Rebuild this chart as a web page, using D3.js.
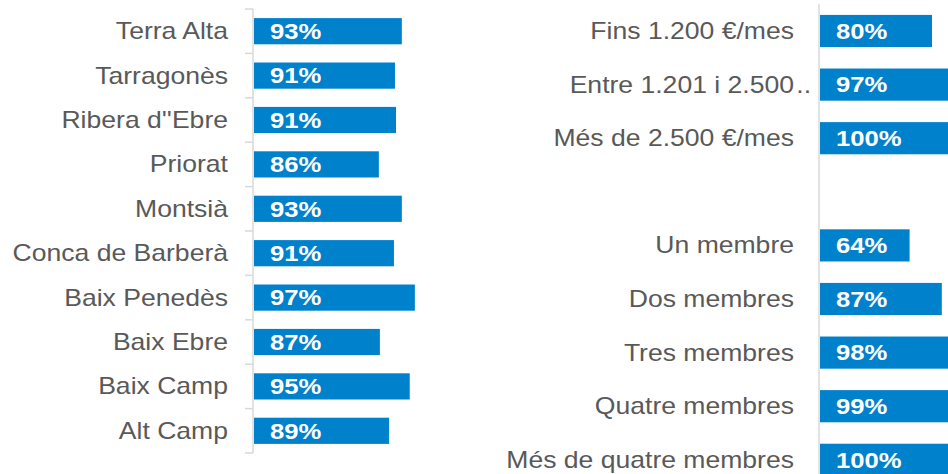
<!DOCTYPE html>
<html>
<head>
<meta charset="utf-8">
<script src="https://cdn.jsdelivr.net/npm/d3@7"></script>
<style>
  body { margin: 0; background: #fff; }
  text { font-family: "Liberation Sans", Arial, sans-serif; }
</style>
</head>
<body>
<div id="chart"></div>
<script>
// comarques (left panel), top to bottom
var comarques = ["Terra Alta", "Tarragonès", "Ribera d''Ebre", "Priorat", "Montsià",
                 "Conca de Barberà", "Baix Penedès", "Baix Ebre", "Baix Camp", "Alt Camp"]
var comarquesVal = [93.1, 91.1, 91.4, 86.4, 93.1, 90.8, 96.9, 86.7, 95.4, 89.4]

// ingressos + membres (right panel), "" is the empty row between the groups
var grups = ["Fins 1.200 €/mes", "Entre 1.201 i 2.500..", "Més de 2.500 €/mes", "",
             "Un membre", "Dos membres", "Tres membres", "Quatre membres", "Més de quatre membres"]
var grupsVal = [80, 97, 100, null, 64, 87, 98, 99, 100]

var width = 948, height = 474
var blue = "#0081cc", grey = "#595959", axisGrey = "#d9d9d9"
var fontSize = 23, valSize = 22.5, stretch = 1.155

var svg = d3.select("#chart")
  .append("svg")
    .attr("width", width)
    .attr("height", height)

// draw one panel: y band scale, x scale, axis position
function panel(cats, vals, y, x, axisX, boundaryTicks) {
  var g = svg.append("g")

  // axis line
  g.append("line")
    .attr("x1", axisX).attr("x2", axisX)
    .attr("y1", y.range()[0]).attr("y2", y.range()[1])
    .attr("stroke", axisGrey).attr("stroke-width", 1.5)

  // tick marks between categories
  if (boundaryTicks) {
    g.selectAll(".tk")
      .data(d3.range(cats.length + 1))
      .enter().append("line")
        .attr("x1", axisX - 8).attr("x2", axisX)
        .attr("y1", function(i) { return y.range()[0] + i * y.step() })
        .attr("y2", function(i) { return y.range()[0] + i * y.step() })
        .attr("stroke", axisGrey).attr("stroke-width", 1.5)
  }

  // category labels
  g.selectAll(".lbl")
    .data(cats)
    .enter().append("g")
      .attr("transform", function(d) { return "translate(" + (axisX - 25) + "," + (y(d) + y.bandwidth() / 2) + ") scale(" + stretch + ",1)" })
    .each(function(d) {
      var trunc = /\.\.$/.test(d)
      d3.select(this).append("text")
        .attr("text-anchor", "end")
        .attr("dy", "0.35em")
        .style("font-size", fontSize + "px")
        .style("fill", grey)
        .text(trunc ? d.slice(0, -2) : d)
      if (trunc) {
        d3.select(this).append("text")
          .attr("x", 2)
          .attr("dy", "0.35em")
          .style("font-size", fontSize + "px")
          .style("fill", grey)
          .text("..")
      }
    })

  var rows = cats.map(function(c, i) { return {cat: c, val: vals[i]} })
    .filter(function(d) { return d.val != null })

  // bars
  g.selectAll(".bar")
    .data(rows)
    .enter().append("rect")
      .attr("x", x.range()[0])
      .attr("y", function(d) { return y(d.cat) })
      .attr("width", function(d) { return x(d.val) - x.range()[0] })
      .attr("height", y.bandwidth())
      .attr("fill", blue)

  // value labels inside the bars
  g.selectAll(".val")
    .data(rows)
    .enter().append("g")
      .attr("transform", function(d) { return "translate(" + (x.range()[0] + 16) + "," + (y(d.cat) + y.bandwidth() / 2) + ") scale(1.14,1)" })
    .append("text")
      .attr("dy", "0.35em")
      .style("font-size", valSize + "px")
      .style("font-weight", "bold")
      .style("fill", "#fff")
      .text(function(d) { return Math.round(d.val) + "%" })
}

// left panel
var yL = d3.scaleBand()
  .domain(comarques)
  .range([9, 453])
  .paddingInner(0.41)
  .paddingOuter(0.205)
var xL = d3.scaleLinear()
  .domain([50, 100])
  .range([254, 425.5])
panel(comarques, comarquesVal, yL, xL, 253, true)

// right panel
var yR = d3.scaleBand()
  .domain(grups)
  .range([4.2, 486.6])
  .paddingInner(0.4)
  .paddingOuter(0.2)
var xR = d3.scaleLinear()
  .domain([0, 100])
  .range([820, 960])
panel(grups, grupsVal, yR, xR, 819, false)
</script>
</body>
</html>
